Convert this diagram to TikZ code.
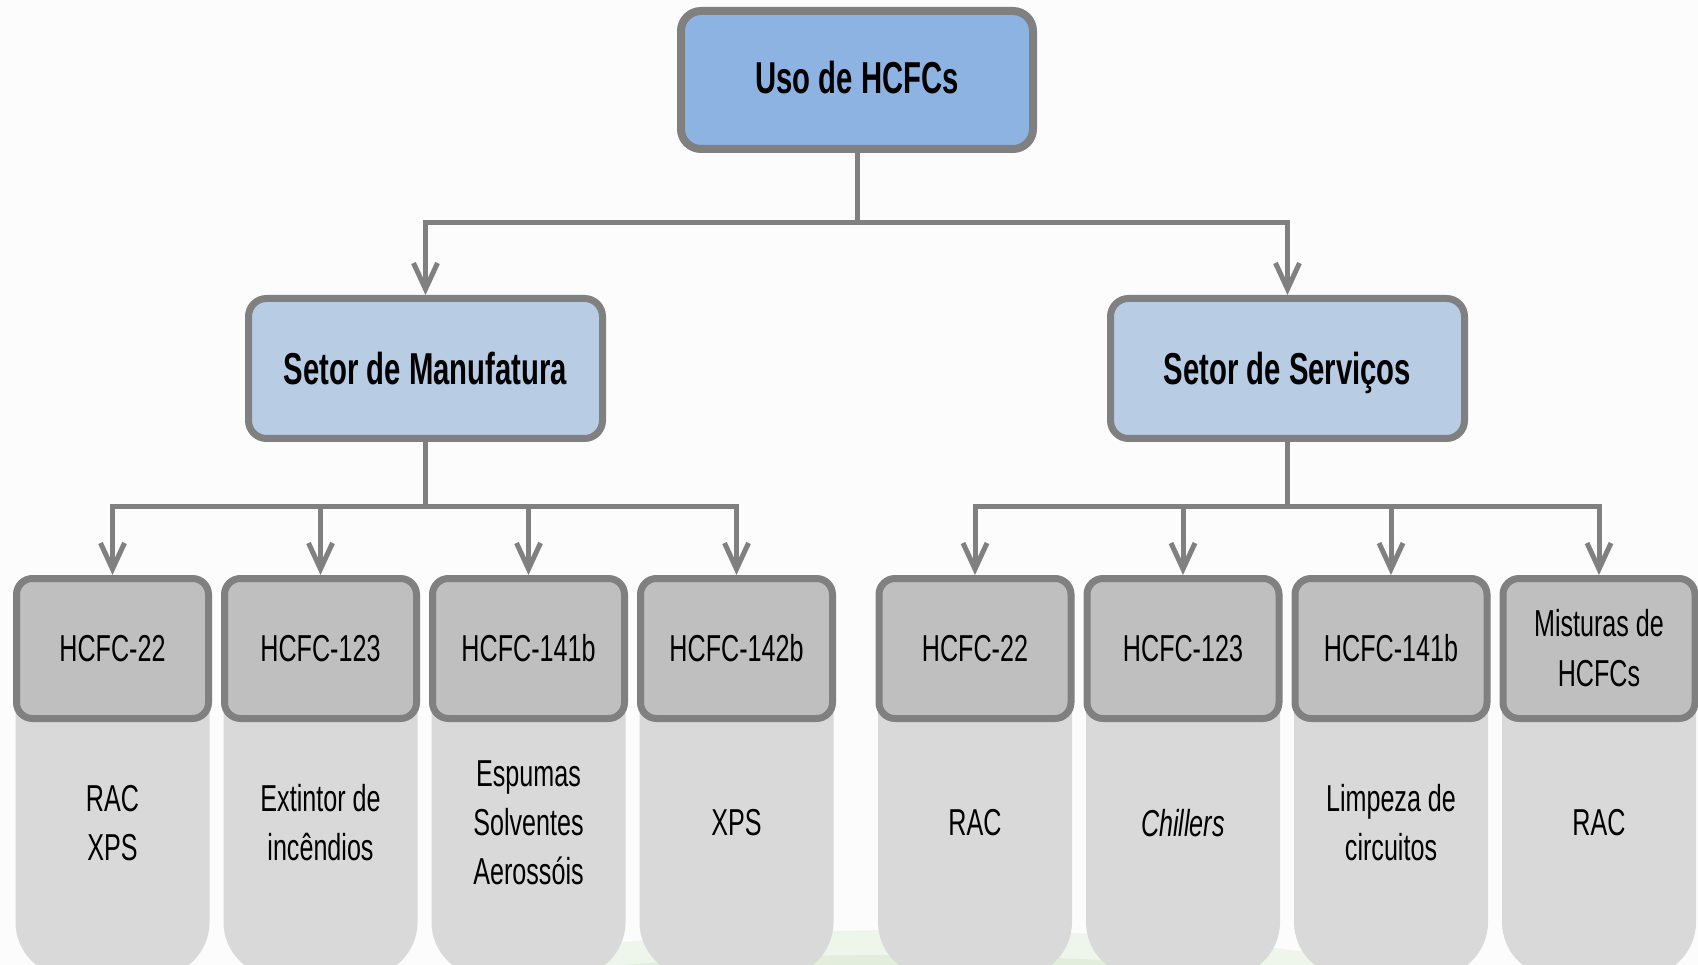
\documentclass[tikz,border=0pt]{standalone}
\usepackage{fontspec}
\setmainfont[FakeStretch=0.67,BoldFeatures={FakeStretch=0.655}]{Liberation Sans}
\usetikzlibrary{arrows.meta}
\definecolor{bgc}{HTML}{FCFCFC}
\definecolor{linegray}{HTML}{808080}
\definecolor{topblue}{HTML}{8DB3E2}
\definecolor{midblue}{HTML}{B8CCE4}
\definecolor{hdrgray}{HTML}{BFBFBF}
\definecolor{lowgray}{HTML}{D9D9D9}
\definecolor{wmgreenA}{HTML}{EEF5EA}
\definecolor{wmgreenB}{HTML}{E2EEDB}
\tikzset{
  lvltop/.style={draw=linegray, line width=8pt, fill=topblue, rounded corners=20pt,
    minimum width=352pt, minimum height=138pt, inner sep=0pt,
    text height=33pt, text depth=0pt,
    font=\fontsize{44.7}{50}\selectfont\bfseries},
  lvlmid/.style={draw=linegray, line width=7pt, fill=midblue, rounded corners=18pt,
    minimum width=354pt, minimum height=140pt, inner sep=0pt,
    text height=33pt, text depth=0pt,
    font=\fontsize{44.7}{50}\selectfont\bfseries},
  hdr/.style={draw=linegray, line width=7pt, fill=hdrgray, rounded corners=16pt,
    minimum width=192pt, minimum height=140pt, inner sep=0pt, align=center,
    font=\fontsize{37.5}{50}\selectfont},
  lowtxt/.style={inner sep=0pt, align=center, font=\fontsize{37.5}{49}\selectfont},
  lowbox/.style={fill=lowgray, rounded corners=55pt},
  conn/.style={draw=linegray, line width=5pt},
  arr/.style={conn, -{Straight Barb[length=26pt,width=24pt,line width=5pt]}},
}
\begin{document}
\begin{tikzpicture}[x=1pt,y=-1pt]
\useasboundingbox (0,0) rectangle (1698,965);
\fill[bgc] (0,0) rectangle (1698,965);
\begin{scope}
\clip (0,0) rectangle (1698,965);
% faint watermark at the bottom
\fill[wmgreenA] (920,1010) ellipse [x radius=560, y radius=80];
\fill[wmgreenB] (900,1010) ellipse [x radius=480, y radius=55];
% lower light boxes
\foreach \cx in {112.5,320.5,528.5,736.5,975,1183,1391,1599}{
  \fill[lowbox] (\cx-97,600) rectangle (\cx+97,977);
}
\end{scope}

\node[lvltop] (top) at (857,80) {};
\node[lvltop, draw=none, fill=none] (toptxt) at (857,77.5) {Uso de HCFCs};
\node[lvlmid] (man) at (425.5,368.5) {Setor de Manufatura};
\node[lvlmid] (serv) at (1287.5,368.5) {Setor de Serviços};

\node[hdr] (h1) at (112.5,648.5) {HCFC-22};
\node[hdr] (h2) at (320.5,648.5) {HCFC-123};
\node[hdr] (h3) at (528.5,648.5) {HCFC-141b};
\node[hdr] (h4) at (736.5,648.5) {HCFC-142b};
\node[hdr] (h5) at (975,648.5) {HCFC-22};
\node[hdr] (h6) at (1183,648.5) {HCFC-123};
\node[hdr] (h7) at (1391,648.5) {HCFC-141b};
\node[hdr] (h8) at (1599,648.5) {Misturas de\\HCFCs};

\node[lowtxt] (t1) at (112.5,823) {RAC\\XPS};
\node[lowtxt] (t2) at (320.5,823) {Extintor de\\incêndios};
\node[lowtxt] (t3) at (528.5,823) {Espumas\\Solventes\\Aerossóis};
\node[lowtxt] (t4) at (736.5,823) {XPS};
\node[lowtxt] (t5) at (975,823) {RAC};
\node[lowtxt] (t6) at (1183,823) {\itshape Chillers};
\node[lowtxt] (t7) at (1391,823) {Limpeza de\\circuitos};
\node[lowtxt] (t8) at (1599,823) {RAC};

% connectors
\coordinate (j0) at (857,223);
\coordinate (j1) at (425.5,506);
\coordinate (j2) at (1287.5,506);
\draw[conn] (top.south) -- (j0);
\draw[arr] (j0) -| (man.north);
\draw[arr] (j0) -| (serv.north);
\draw[conn] (man.south) -- (j1);
\draw[conn] (serv.south) -- (j2);
\foreach \h in {h1,h2,h3,h4}{\draw[arr] (j1) -| (\h.north);}
\foreach \h in {h5,h6,h7,h8}{\draw[arr] (j2) -| (\h.north);}
\end{tikzpicture}
\end{document}
